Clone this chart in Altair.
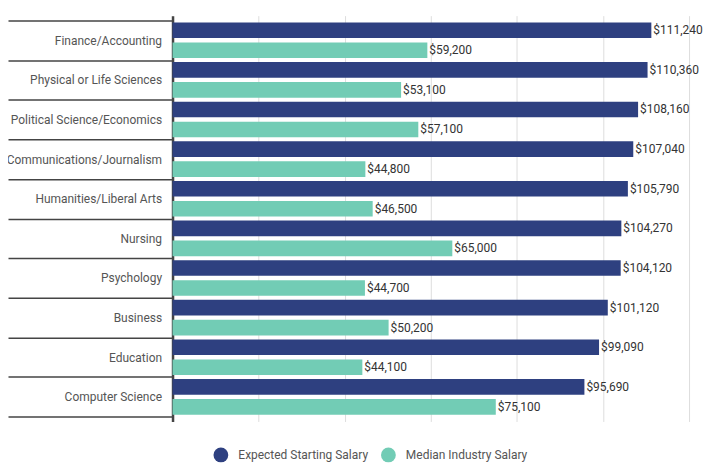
import altair as alt
import pandas as pd

categories = ["Finance/Accounting", "Physical or Life Sciences", "Political Science/Economics",
              "Communications/Journalism", "Humanities/Liberal Arts", "Nursing", "Psychology",
              "Business", "Education", "Computer Science"]
expected = [111240, 110360, 108160, 107040, 105790, 104270, 104120, 101120, 99090, 95690]
median = [59200, 53100, 57100, 44800, 46500, 65000, 44700, 50200, 44100, 75100]
series = ["Expected Starting Salary", "Median Industry Salary"]
colors = ["#2e4080", "#72ccb5"]

rows = []
for c, e, m in zip(categories, expected, median):
    rows.append({"category": c, "series": series[0], "value": e})
    rows.append({"category": c, "series": series[1], "value": m})
df = pd.DataFrame(rows)

y = alt.Y("category:N", sort=categories, title=None,
          scale=alt.Scale(paddingInner=0, paddingOuter=0.12),
          axis=alt.Axis(tickBand="extent", tickSize=165, tickColor="#444", tickWidth=1.5,
                        domainColor="#444", domainWidth=2.5, labelPadding=-154,
                        labelFontSize=12, labelColor="#555", labelFont="Roboto",
                        grid=False))
yoff = alt.YOffset("series:N", sort=series,
                   scale=alt.Scale(paddingInner=0.22, paddingOuter=0.1))
x = alt.X("value:Q", title=None, scale=alt.Scale(domain=[0, 120000], nice=False),
          axis=alt.Axis(values=[0, 20000, 40000, 60000, 80000, 100000, 120000],
                        labels=False, ticks=False, domain=False, grid=True,
                        gridColor="#dddddd", gridWidth=1))

bars = alt.Chart(df).mark_bar().encode(
    x=x, y=y, yOffset=yoff,
    color=alt.Color("series:N", sort=series,
                    scale=alt.Scale(domain=series, range=colors),
                    legend=alt.Legend(title=None, orient="none", legendX=41, legendY=433,
                                      direction="horizontal", symbolType="circle",
                                      symbolSize=220, symbolStrokeWidth=0,
                                      labelFontSize=12, labelColor="#555",
                                      labelFont="Roboto", labelOffset=10,
                                      columnPadding=12))
)

labels = alt.Chart(df).mark_text(align="left", baseline="middle", dx=2,
                                 fontSize=12, color="#333", font="Roboto").encode(
    x="value:Q", y=alt.Y("category:N", sort=categories), yOffset=yoff,
    text=alt.Text("value:Q", format="$,.0f")
)

chart = (bars + labels).properties(
    width=518, height=407,
    autosize=alt.AutoSizeParams(type="none"),
    padding={"left": 165, "top": 7, "right": 18, "bottom": 42},
).configure(font="Roboto").configure_view(stroke=None)

chart.save("out.html", embed_options={"renderer": "svg", "actions": False})
